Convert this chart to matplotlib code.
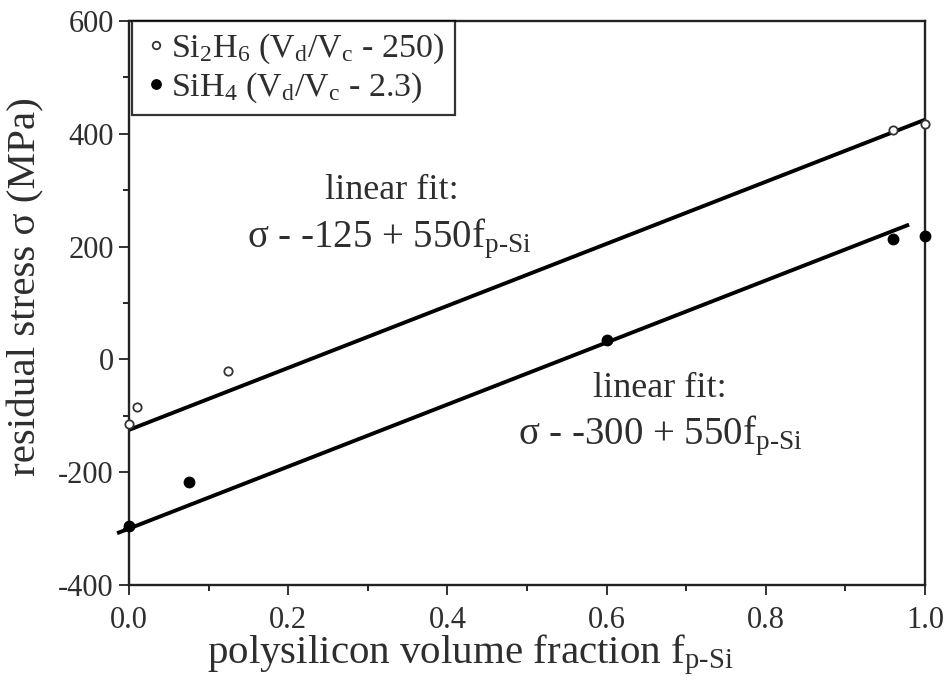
import matplotlib
matplotlib.use("Agg")
import matplotlib.pyplot as plt
from matplotlib.ticker import MultipleLocator

plt.rcParams['font.family'] = ['Liberation Serif', 'DejaVu Serif']
plt.rcParams['mathtext.fontset'] = 'custom'
plt.rcParams['mathtext.rm'] = 'Liberation Serif'
plt.rcParams['mathtext.it'] = 'Liberation Serif:italic'
plt.rcParams['axes.unicode_minus'] = False

# data
si2h6_x = [0.0, 0.01, 0.125, 0.96, 1.0]
si2h6_y = [-115, -85, -20, 407, 417]
sih4_x = [0.0, 0.075, 0.60, 0.96, 1.0]
sih4_y = [-295, -217, 34, 213, 218]
fit1_x = [0.0, 1.0]
fit1_y = [-125 + 550 * v for v in fit1_x]
fit2_x = [-0.015, 0.98]
fit2_y = [-300 + 550 * v for v in fit2_x]

xticks = [0.0, 0.2, 0.4, 0.6, 0.8, 1.0]
xticklabels = ['0.0', '0.2', '0.4', '0.6', '0.8', '1.0']
yticks = [-400, -200, 0, 200, 400, 600]

TXT = '#2e2e2e'

fig = plt.figure(figsize=(9.53, 6.88), dpi=100)
ax = fig.add_axes([129/953, 1 - 585/688, (925-129)/953, (585-21)/688])

ax.plot(fit1_x, fit1_y, color='black', lw=2.8, solid_capstyle='butt', zorder=2, clip_on=False)
ax.plot(fit2_x, fit2_y, color='black', lw=2.8, solid_capstyle='butt', zorder=2, clip_on=False)
ax.plot(si2h6_x, si2h6_y, 'o', mfc='white', mec='#333333', mew=1.3, ms=6, ls='none', zorder=3, clip_on=False,
        label=r'Si$_2$H$_6$ (V$_\mathrm{d}$/V$_\mathrm{c}$ - 250)')
ax.plot(sih4_x, sih4_y, 'o', color='black', ms=7.5, ls='none', zorder=3, clip_on=False,
        label=r'SiH$_4$ (V$_\mathrm{d}$/V$_\mathrm{c}$ - 2.3)')

ax.set_xlim(0, 1.0)
ax.set_ylim(-400, 600)
ax.set_xticks(xticks)
ax.set_xticklabels(xticklabels)
ax.set_yticks(yticks)
ax.xaxis.set_minor_locator(MultipleLocator(0.1))
ax.yaxis.set_minor_locator(MultipleLocator(100))
ax.tick_params(which='major', direction='out', length=7, width=1.4, labelsize=22, colors='#333333')
ax.tick_params(axis='x', which='major', pad=8)
ax.tick_params(axis='y', which='major', pad=4)
ax.tick_params(which='minor', direction='out', length=4.5, width=1.2)
for lab in ax.get_xticklabels() + ax.get_yticklabels():
    lab.set_color(TXT)
for s in ax.spines.values():
    s.set_linewidth(1.7)
    s.set_color('#222222')

ax.set_xlabel(r'polysilicon volume fraction f$_\mathrm{p\text{-}Si}$', fontsize=29.5, color=TXT)
ax.xaxis.set_label_coords((470-129)/796, -0.085)
ax.set_ylabel(r'residual stress σ (MPa)', fontsize=29.5, color=TXT)
ax.yaxis.set_label_coords(-0.106, (585-287)/563)

ax.text(0.246, 284, 'linear fit:', fontsize=26, color=TXT, ha='left', va='baseline')
ax.text(0.148, 199, r'σ - -125 + 550f$_\mathrm{p\text{-}Si}$', fontsize=28, color=TXT, ha='left', va='baseline')
ax.text(0.583, -66, 'linear fit:', fontsize=26, color=TXT, ha='left', va='baseline')
ax.text(0.489, -151, r'σ - -300 + 550f$_\mathrm{p\text{-}Si}$', fontsize=28, color=TXT, ha='left', va='baseline')

leg = ax.legend(loc='upper left', bbox_to_anchor=(0.004, 1.0), borderaxespad=0.0, fontsize=24.5,
                frameon=True, fancybox=False, edgecolor='black', handletextpad=0.05, handlelength=0.8,
                borderpad=0.3, labelspacing=0.15, markerscale=0.9)
leg.get_frame().set_linewidth(1.6)
for t in leg.get_texts():
    t.set_color(TXT)

fig.savefig('out.png', dpi=100)
